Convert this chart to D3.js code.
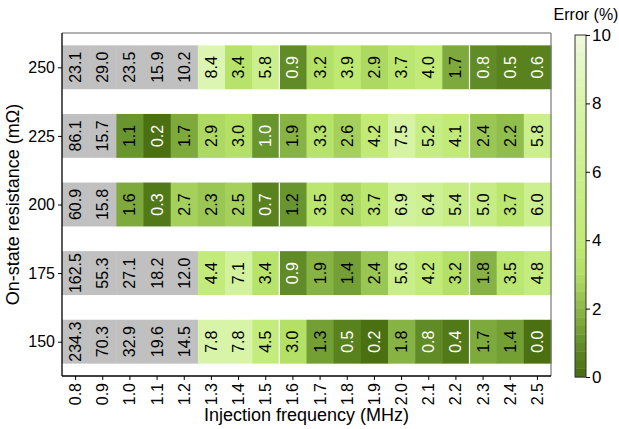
<!DOCTYPE html>
<html>
<head>
<meta charset="utf-8">
<script src="https://cdn.jsdelivr.net/npm/d3@7"></script>
<style>
  html, body { margin: 0; padding: 0; background: #fff; }
  svg { display: block; font-family: "Liberation Sans", Arial, sans-serif; }
</style>
</head>
<body>
<svg id="chart" width="619" height="429"></svg>
<script>
// Injection frequencies (MHz) along x, on-state resistances (mΩ) along y
const frequencies = ["0.8","0.9","1.0","1.1","1.2","1.3","1.4","1.5","1.6","1.7","1.8","1.9","2.0","2.1","2.2","2.3","2.4","2.5"];
const resistances = [250, 225, 200, 175, 150];

// Estimation error (%) per resistance row
const err250 = [23.1, 29.0, 23.5, 15.9, 10.2, 8.4, 3.4, 5.8, 0.9, 3.2, 3.9, 2.9, 3.7, 4.0, 1.7, 0.8, 0.5, 0.6];
const err225 = [86.1, 15.7, 1.1, 0.2, 1.7, 2.9, 3.0, 1.0, 1.9, 3.3, 2.6, 4.2, 7.5, 5.2, 4.1, 2.4, 2.2, 5.8];
const err200 = [60.9, 15.8, 1.6, 0.3, 2.7, 2.3, 2.5, 0.7, 1.2, 3.5, 2.8, 3.7, 6.9, 6.4, 5.4, 5.0, 3.7, 6.0];
const err175 = [162.5, 55.3, 27.1, 18.2, 12.0, 4.4, 7.1, 3.4, 0.9, 1.9, 1.4, 2.4, 5.6, 4.2, 3.2, 1.8, 3.5, 4.8];
const err150 = [234.3, 70.3, 32.9, 19.6, 14.5, 7.8, 7.8, 4.5, 3.0, 1.3, 0.5, 0.2, 1.8, 0.8, 0.4, 1.7, 1.4, 0.0];
const errorRows = [err250, err225, err200, err175, err150];

// Colour bar ticks and separators between frequency groups
const colorbarTicks = [0, 2, 4, 6, 8, 10];
const groupBreaks = ["1.5", "2.2"];

const FONT = "'Liberation Sans', Arial, sans-serif";
const svg = d3.select("#chart");
const plot = { left: 62, right: 551, top: 33, bottom: 376 };

const x = d3.scaleBand().domain(frequencies).range([plot.left, plot.right]).padding(0);
const y = d3.scalePoint().domain(resistances).range([plot.top, plot.bottom]).padding(0.5);
const cellH = y.step() * 0.64;

// Stepped green colormap: 40 levels over 0–10 %
const stopVals = [0, 1, 2, 3, 4, 6, 8, 10];
const stopCols = ["#476b0d", "#64902a", "#8cb848", "#b2de66", "#c0ea74", "#cbef8e", "#d8f4aa", "#eef9dc"];
const ramp = d3.scaleLinear().domain(stopVals).range(stopCols).interpolate(d3.interpolateRgb);
const nLevels = 40;
const levels = d3.range(nLevels).map(i => ramp((i + 0.5) * 10 / nLevels));
const color = d3.scaleQuantize().domain([0, 10]).range(levels);
const fill = v => v > 10 ? "#c0c0c0" : color(v);

const cells = [];
resistances.forEach((r, ri) => {
  frequencies.forEach((f, fi) => cells.push({ r, f, v: errorRows[ri][fi] }));
});

const g = svg.append("g");
g.selectAll("rect.cell").data(cells).join("rect")
  .attr("class", "cell")
  .attr("x", d => x(d.f))
  .attr("y", d => y(d.r) - cellH / 2)
  .attr("width", x.bandwidth() + 0.5)
  .attr("height", cellH)
  .attr("fill", d => fill(d.v));

// Thin white separators between frequency groups
resistances.forEach(r => {
  groupBreaks.forEach(b => {
    const xb = x(b) + x.bandwidth();
    g.append("line")
      .attr("x1", xb).attr("x2", xb)
      .attr("y1", y(r) - cellH / 2).attr("y2", y(r) + cellH / 2)
      .attr("stroke", "#fff").attr("stroke-width", 1.2);
  });
});

// Value labels, rotated
g.selectAll("text.val").data(cells).join("text")
  .attr("class", "val")
  .attr("transform", d => `translate(${x(d.f) + x.bandwidth() / 2 + 5.5},${y(d.r)}) rotate(-90)`)
  .attr("text-anchor", "middle")
  .attr("font-size", 16)
  .attr("font-family", FONT)
  .attr("fill", d => d.v <= 1.0 ? "#fff" : "#000")
  .text(d => d.v.toFixed(1));

// Frame
svg.append("line").attr("x1", plot.left).attr("x2", plot.right).attr("y1", plot.top).attr("y2", plot.top)
  .attr("stroke", "#666").attr("stroke-width", 1.2);
svg.append("line").attr("x1", plot.right).attr("x2", plot.right).attr("y1", plot.top).attr("y2", plot.bottom)
  .attr("stroke", "#777").attr("stroke-width", 1.2);

// Axes
const yAxis = svg.append("g").attr("transform", `translate(${plot.left},0)`)
  .call(d3.axisLeft(y).tickSize(4).tickPadding(3));
yAxis.select(".domain").attr("stroke", "#000").attr("stroke-width", 1.3)
  .attr("d", `M0,${plot.top}V${plot.bottom}`);
yAxis.selectAll("text").attr("font-size", 16).attr("fill", "#000").attr("font-family", FONT);

const xAxis = svg.append("g").attr("transform", `translate(0,${plot.bottom})`)
  .call(d3.axisBottom(x).tickSize(4).tickPadding(3));
xAxis.select(".domain").attr("stroke", "#000").attr("stroke-width", 1.3)
  .attr("d", `M${plot.left},0H${plot.right}`);
xAxis.selectAll("text")
  .attr("font-size", 16).attr("fill", "#000").attr("font-family", FONT)
  .attr("text-anchor", "end")
  .attr("dy", null)
  .attr("transform", "rotate(-90)")
  .attr("x", -7).attr("y", 5.5);

svg.append("text")
  .attr("x", (plot.left + plot.right) / 2).attr("y", 421)
  .attr("text-anchor", "middle").attr("font-size", 18).attr("font-family", FONT)
  .text("Injection frequency (MHz)");
svg.append("text")
  .attr("transform", `translate(19,${(plot.top + plot.bottom) / 2}) rotate(-90)`)
  .attr("text-anchor", "middle").attr("font-size", 18).attr("font-family", FONT)
  .text("On-state resistance (mΩ)");

// Colour bar
const cb = { x: 575, w: 11, top: 35, bottom: 377 };
const cy = d3.scaleLinear().domain([0, 10]).range([cb.bottom, cb.top]);
svg.append("g").selectAll("rect").data(levels).join("rect")
  .attr("x", cb.x)
  .attr("y", (c, i) => cy((i + 1) * 10 / nLevels))
  .attr("width", cb.w)
  .attr("height", (c, i) => cy(i * 10 / nLevels) - cy((i + 1) * 10 / nLevels) + 0.4)
  .attr("fill", c => c);
svg.append("rect").attr("x", cb.x).attr("y", cb.top).attr("width", cb.w).attr("height", cb.bottom - cb.top)
  .attr("fill", "none").attr("stroke", "#333").attr("stroke-width", 1);
const cAxis = svg.append("g").attr("transform", `translate(${cb.x + cb.w},0)`)
  .call(d3.axisRight(cy).tickValues(colorbarTicks).tickFormat(d3.format("d")).tickSize(4).tickPadding(2));
cAxis.select(".domain").remove();
cAxis.selectAll("text").attr("font-size", 17).attr("fill", "#000").attr("font-family", FONT);
svg.append("text").attr("x", 586).attr("y", 20).attr("text-anchor", "middle").attr("font-size", 16)
  .attr("font-family", FONT)
  .text("Error (%)");
</script>
</body>
</html>
